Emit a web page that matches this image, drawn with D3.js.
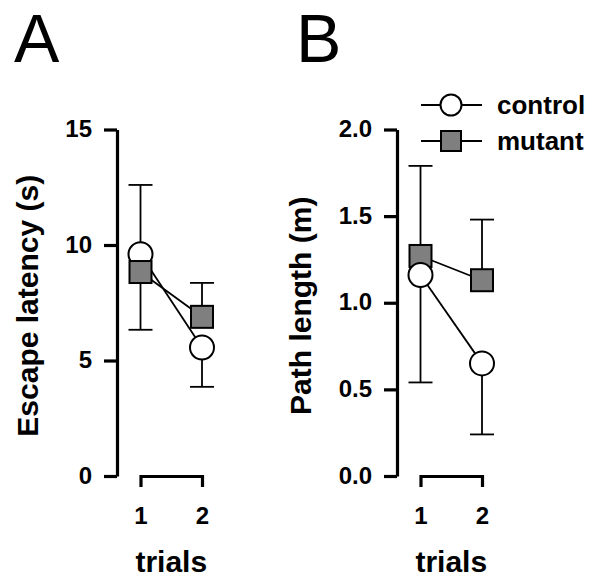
<!DOCTYPE html>
<html><head><meta charset="utf-8">
<script src="https://cdn.jsdelivr.net/npm/d3@7"></script>
<style>
body{margin:0;background:#fff;}
svg{display:block;font-family:"Liberation Sans",Arial,sans-serif;}
</style></head><body>
<div id="chart"></div>
<script>
const trials = [1, 2];
const seriesNames = ["control", "mutant"];
// Panel A: escape latency (s)
const latencyControl = [9.6, 5.56];
const latencyControlSem = [3.0, 1.7];
const latencyMutant = [8.83, 6.89];
const latencyMutantSem = [2.5, 1.47];
const latencyTicks = [0, 5, 10, 15];
// Panel B: path length (m)
const pathControl = [1.16, 0.65];
const pathControlSem = [0.62, 0.41];
const pathMutant = [1.27, 1.13];
const pathMutantSem = [0.52, 0.35];
const pathTicks = [0, 0.5, 1.0, 1.5, 2.0];

const W = 600, H = 586;
const svg = d3.select("#chart").append("svg").attr("width", W).attr("height", H);

const yTop = 129.5, yBot = 476;

function panel(opts) {
  const g = svg.append("g");
  const ax = opts.axisX;
  const y = d3.scaleLinear().domain(opts.domain).range([yBot, yTop]);
  const x = d3.scaleLinear().domain([1, 2]).range([ax + 23.5, ax + 85]);

  // y axis
  const yAxis = d3.axisLeft(y).tickValues(opts.ticks).tickFormat(opts.fmt)
    .tickSizeInner(13).tickSizeOuter(0).tickPadding(12);
  const ya = g.append("g").attr("transform", `translate(${ax},0)`).call(yAxis);
  ya.select(".domain").attr("stroke", "#000").attr("stroke-width", 3.2);
  ya.selectAll(".tick line").attr("stroke", "#000").attr("stroke-width", 3.2);
  ya.selectAll(".tick text").attr("fill", "#000").style("font-size", "24px").style("font-weight", "bold").attr("dy", "0.3em");

  // x axis bracket
  const xAxis = d3.axisBottom(x).tickValues(trials).tickFormat(d3.format("d"))
    .tickSizeInner(0).tickSizeOuter(11).tickPadding(31);
  const xa = g.append("g").attr("transform", `translate(0,${yBot})`).call(xAxis);
  xa.select(".domain").attr("stroke", "#000").attr("stroke-width", 3.2).attr("fill", "none");
  xa.selectAll(".tick line").remove();
  xa.selectAll(".tick text").attr("fill", "#000").style("font-size", "24px").style("font-weight", "bold");

  g.append("text").attr("x", x(1.5)).attr("y", 572).attr("text-anchor", "middle")
    .style("font-size", "30px").style("font-weight", "bold").text("trials");

  g.append("text").attr("transform", `translate(${opts.labelX},${(yTop + yBot) / 2 + 3}) rotate(-90)`)
    .attr("text-anchor", "middle").style("font-size", "30px").style("font-weight", "bold")
    .text(opts.ylabel);

  g.append("text").attr("x", opts.letterX).attr("y", 62)
    .style("font-size", "68px").text(opts.letter);

  const series = [
    {name: "control", vals: opts.control, sem: opts.controlSem, other: opts.mutant},
    {name: "mutant", vals: opts.mutant, sem: opts.mutantSem, other: opts.control}
  ];
  const line = d3.line().x((d, i) => x(trials[i])).y(d => y(d));
  series.forEach(s => {
    g.append("path").datum(s.vals).attr("d", line).attr("fill", "none")
      .attr("stroke", "#000").attr("stroke-width", 1.8);
  });
  // error bars: upper for higher series, lower for lower series
  series.forEach(s => {
    s.vals.forEach((v, i) => {
      const up = v >= s.other[i];
      const end = up ? v + s.sem[i] : v - s.sem[i];
      const cx = x(trials[i]);
      g.append("line").attr("x1", cx).attr("x2", cx).attr("y1", y(v)).attr("y2", y(end))
        .attr("stroke", "#000").attr("stroke-width", 1.8);
      g.append("line").attr("x1", cx - 12).attr("x2", cx + 12).attr("y1", y(end)).attr("y2", y(end))
        .attr("stroke", "#000").attr("stroke-width", 1.8);
    });
  });
  opts.order.forEach(name => {
    const s = series.find(d => d.name === name);
    s.vals.forEach((v, i) => {
      const cx = x(trials[i]), cy = y(v);
      if (name === "control") {
        g.append("circle").attr("cx", cx).attr("cy", cy).attr("r", 12)
          .attr("fill", "#fff").attr("stroke", "#000").attr("stroke-width", 2);
      } else {
        g.append("rect").attr("x", cx - 11).attr("y", cy - 11).attr("width", 22).attr("height", 22)
          .attr("fill", "#7f7f7f").attr("stroke", "#000").attr("stroke-width", 2);
      }
    });
  });
}

panel({axisX: 117, domain: [0, 15], ticks: latencyTicks, fmt: d3.format("d"),
  control: latencyControl, controlSem: latencyControlSem, mutant: latencyMutant, mutantSem: latencyMutantSem,
  ylabel: "Escape latency (s)", labelX: 38, letter: "A", letterX: 14, order: ["control", "mutant"]});
panel({axisX: 397, domain: [0, 2], ticks: pathTicks, fmt: d3.format(".1f"),
  control: pathControl, controlSem: pathControlSem, mutant: pathMutant, mutantSem: pathMutantSem,
  ylabel: "Path length (m)", labelX: 311, letter: "B", letterX: 296, order: ["mutant", "control"]});

// legend
const leg = svg.append("g");
const legY = [105, 141];
seriesNames.forEach((name, i) => {
  const ly = legY[i];
  leg.append("line").attr("x1", 421).attr("x2", 482).attr("y1", ly).attr("y2", ly)
    .attr("stroke", "#000").attr("stroke-width", 1.8);
  if (name === "control") {
    leg.append("circle").attr("cx", 451).attr("cy", ly).attr("r", 10.5)
      .attr("fill", "#fff").attr("stroke", "#000").attr("stroke-width", 2);
  } else {
    leg.append("rect").attr("x", 441).attr("y", ly - 10).attr("width", 20).attr("height", 20)
      .attr("fill", "#7f7f7f").attr("stroke", "#000").attr("stroke-width", 2);
  }
  leg.append("text").attr("x", 497).attr("y", ly + 9).style("font-size", "26px")
    .style("font-weight", "bold").text(name);
});
</script>
</body></html>
